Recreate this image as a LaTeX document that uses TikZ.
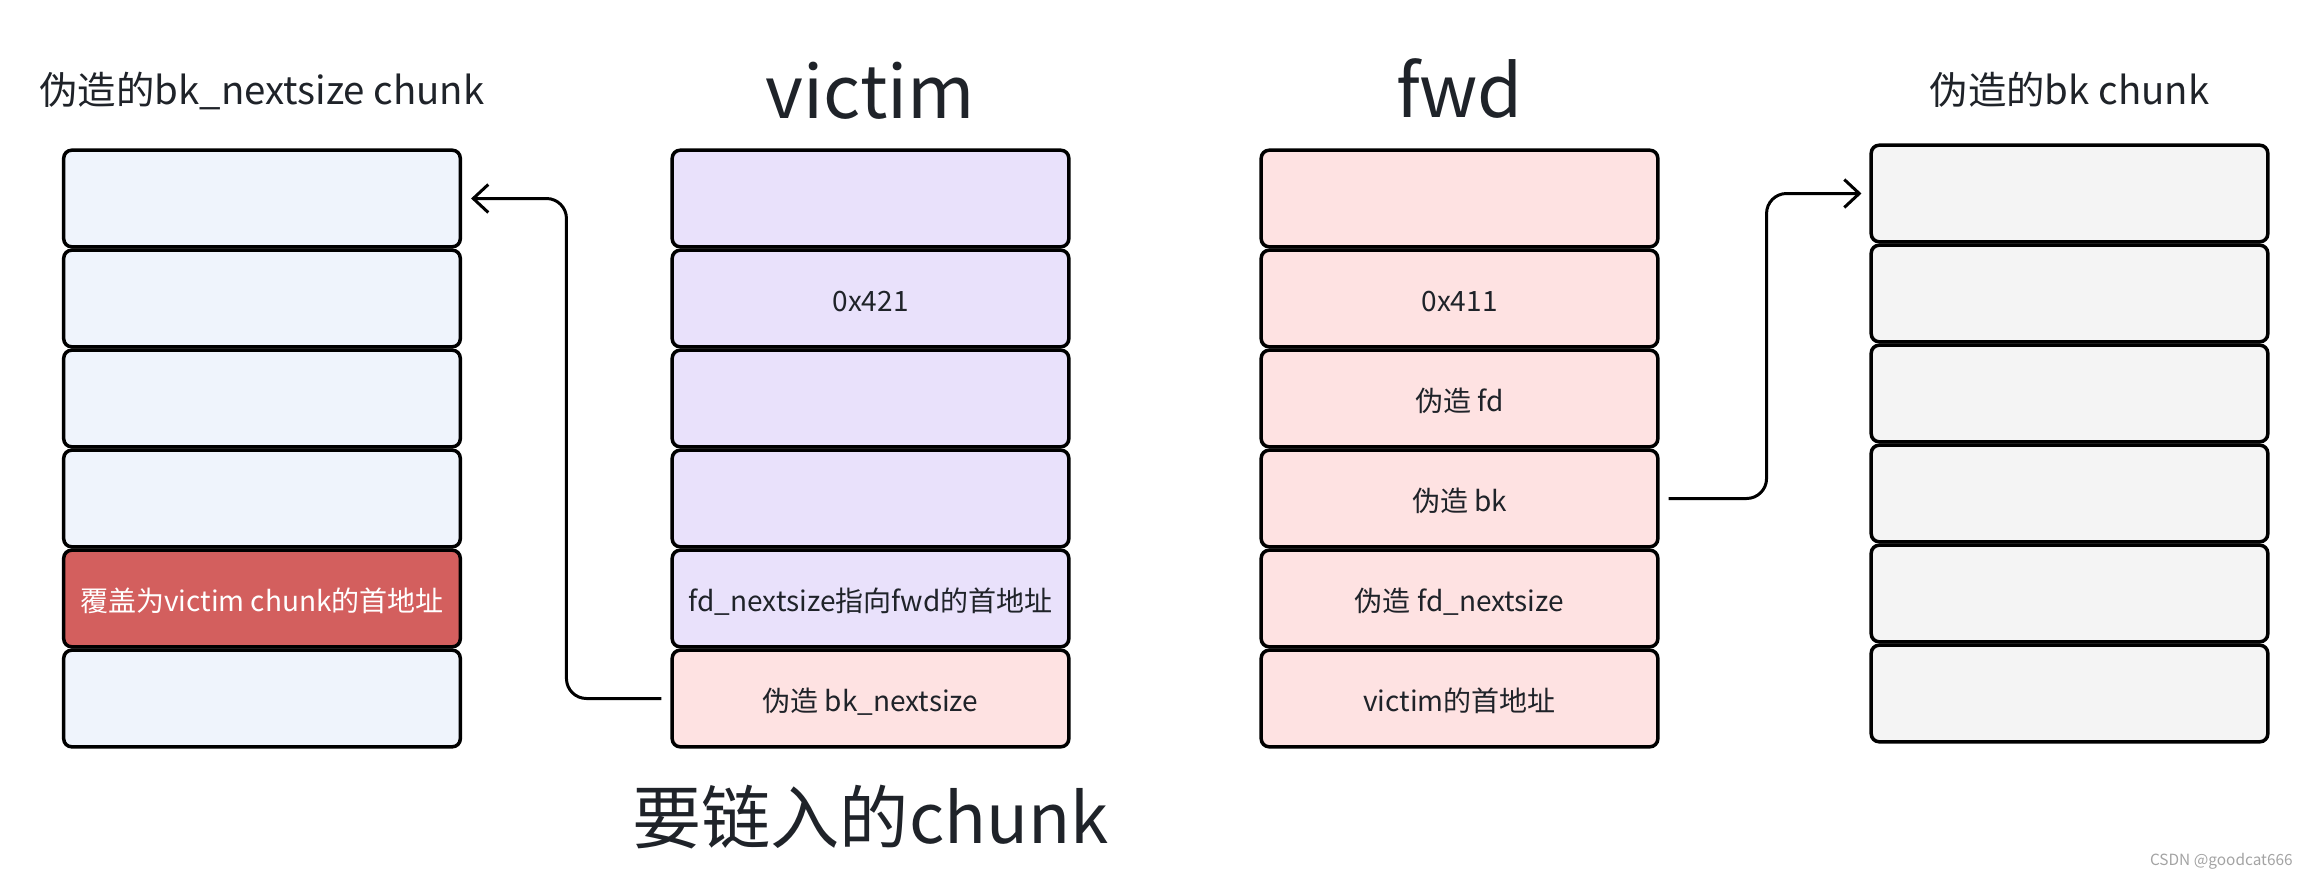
\documentclass[tikz,border=0pt]{standalone}
\usepackage{fontspec}
\setmainfont{Noto Sans CJK SC}
\usetikzlibrary{arrows.meta}

\definecolor{inkdark}{HTML}{1F2329}
\definecolor{fakeblue}{HTML}{EFF4FC}
\definecolor{victimpurple}{HTML}{E9E1FB}
\definecolor{fakepink}{HTML}{FEE2E2}
\definecolor{fakegray}{HTML}{F4F4F4}
\definecolor{hitred}{HTML}{D35F5E}
\definecolor{markgray}{HTML}{A3A3A3}

\begin{document}
\begin{tikzpicture}[x=0.5pt, y=-0.5pt]
        \tikzset{cell/.style={draw=black, line width=1.75pt, rounded corners=4pt,
                              minimum width=198.3pt, minimum height=48.3pt,
                              inner sep=0pt, text=inkdark,
                              text height=13.2pt, text depth=0pt,
                              font=\fontsize{14}{17}\selectfont},
                 title/.style={anchor=base, text=inkdark, inner sep=0pt},
                 link/.style={line width=1.5pt, rounded corners=10pt,
                              -{Straight Barb[length=7.5pt,width=14pt]}}}
        \useasboundingbox (0,0) rectangle (2310,878);

        % forged bk_nextsize chunk
        \node[title, font=\fontsize{19.2}{23}\selectfont] (bntitle) at (262,104)
              {伪造的bk\_nextsize chunk};
        \node[cell, fill=fakeblue] (bn1) at (262,198.5) {};
        \node[cell, fill=fakeblue] (bn2) at (262,298.5) {};
        \node[cell, fill=fakeblue] (bn3) at (262,398.5) {};
        \node[cell, fill=fakeblue] (bn4) at (262,498.5) {};
        \node[cell, fill=hitred, text=white] (bn5) at (262,598.5)
              {覆盖为victim chunk的首地址};
        \node[cell, fill=fakeblue] (bn6) at (262,698.5) {};

        % victim
        \node[title, font=\fontsize{36.4}{43}\selectfont] (vtitle) at (870.5,118) {victim};
        \node[cell, fill=victimpurple] (v1) at (870.5,198.5) {};
        \node[cell, fill=victimpurple] (v2) at (870.5,298.5) {0x421};
        \node[cell, fill=victimpurple] (v3) at (870.5,398.5) {};
        \node[cell, fill=victimpurple] (v4) at (870.5,498.5) {};
        \node[cell, fill=victimpurple] (v5) at (870.5,598.5)
              {fd\_nextsize指向fwd的首地址};
        \node[cell, fill=fakepink] (v6) at (870.5,698.5) {伪造 bk\_nextsize};
        \node[title, font=\fontsize{34.6}{41}\selectfont] (vcaption) at (870.5,843)
              {要链入的chunk};

        % fwd
        \node[title, font=\fontsize{36.4}{43}\selectfont] (ftitle) at (1459.5,117) {fwd};
        \node[cell, fill=fakepink] (f1) at (1459.5,198.5) {};
        \node[cell, fill=fakepink] (f2) at (1459.5,298.5) {0x411};
        \node[cell, fill=fakepink] (f3) at (1459.5,398.5) {伪造 fd};
        \node[cell, fill=fakepink] (f4) at (1459.5,498.5) {伪造 bk};
        \node[cell, fill=fakepink] (f5) at (1459.5,598.5) {伪造 fd\_nextsize};
        \node[cell, fill=fakepink] (f6) at (1459.5,698.5) {victim的首地址};

        % forged bk chunk
        \node[title, font=\fontsize{19.2}{23}\selectfont] (bktitle) at (2069.5,104)
              {伪造的bk chunk};
        \node[cell, fill=fakegray] (bk1) at (2069.5,193.5) {};
        \node[cell, fill=fakegray] (bk2) at (2069.5,293.5) {};
        \node[cell, fill=fakegray] (bk3) at (2069.5,393.5) {};
        \node[cell, fill=fakegray] (bk4) at (2069.5,493.5) {};
        \node[cell, fill=fakegray] (bk5) at (2069.5,593.5) {};
        \node[cell, fill=fakegray] (bk6) at (2069.5,693.5) {};

        \draw[link, shorten <=4.5pt, shorten >=4.5pt]
              (v6.west) -- +(-104,0) |- (bn1.east);
        \draw[link, shorten <=4.5pt, shorten >=4pt]
              (f4.east) -- +(107,0) |- (bk1.west);

        \node[anchor=base east, inner sep=0pt, text=markgray,
              font=\fontsize{7.7}{9}\selectfont] (mark) at (2293,865)
              {CSDN @goodcat666};
\end{tikzpicture}
\end{document}
